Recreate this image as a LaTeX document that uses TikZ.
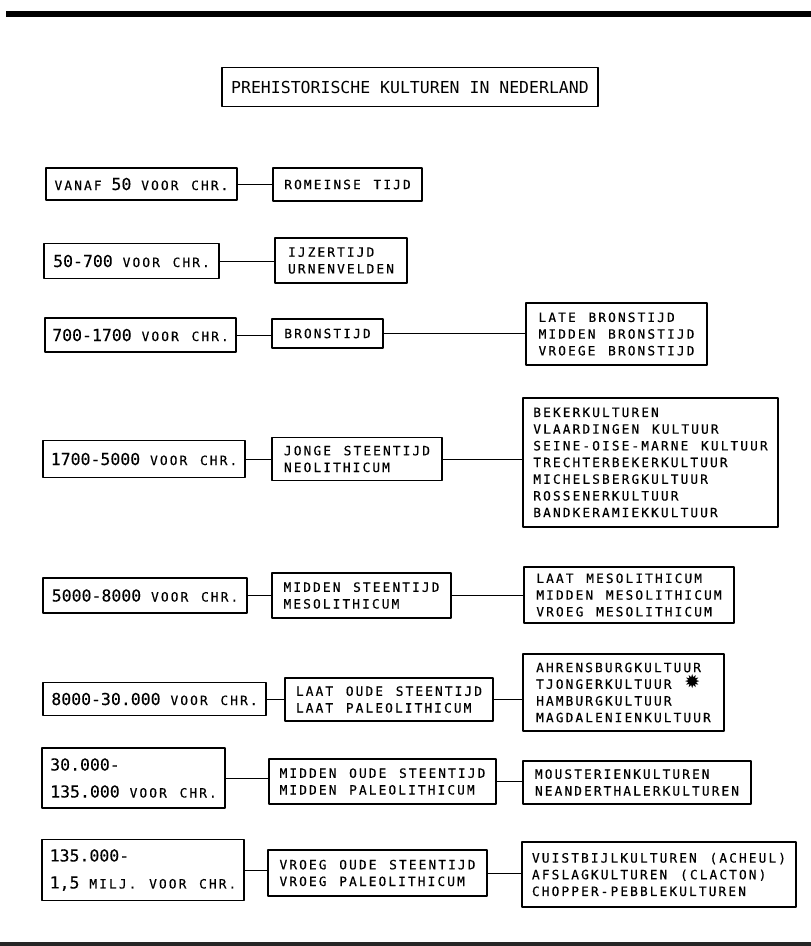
\documentclass[tikz,border=0pt]{standalone}
\usepackage{fontspec}
\newfontfamily\plotfont{DejaVu Sans Mono}[LetterSpace=16.5,WordSpace=1.3,FakeBold=0.4]
\newfontfamily\bigplotfont{DejaVu Sans Mono}[FakeBold=0.2]
\newfontfamily\titelfont{DejaVu Sans Mono}
\newfontfamily\symfont{DejaVu Sans}
\newcommand{\klein}{\fontsize{12.8}{16.7}\plotfont}
\newcommand{\groot}{\fontsize{16.5}{27}\bigplotfont}
\begin{document}
\begin{tikzpicture}[x=1pt, y=-1pt, line join=round, line cap=round,
	kader/.style={draw, line width=1.4pt, align=left, inner sep=0pt},
	datum/.style={kader, font=\groot},
	periode/.style={kader, font=\klein},
	kultuur/.style={kader, font=\klein},
	lijn/.style={line width=1pt}]
		\useasboundingbox (0,0) rectangle (811,946);
		%\draw[color=gray!50,dashed] (0,0) grid[xstep=50,ystep=50] (811,946);
		\fill (6,11) rectangle (811,17);
		\fill[black!85] (0,942) rectangle (811,946);
		\node[kader, font=\fontsize{16.5}{20}\titelfont, minimum width=376pt, minimum height=39pt] (titel) at (410,87) {PREHISTORISCHE KULTUREN IN NEDERLAND};
		% tijdvakken
		\node[datum, minimum width=191pt, minimum height=32pt] (d1) at (141.5,184) {{\klein VANAF} 50 {\klein VOOR CHR.}};
		\node[datum, minimum width=175pt, minimum height=35pt] (d2) at (131.5,261) {50-700 {\klein VOOR CHR.}};
		\node[datum, minimum width=191pt, minimum height=34pt] (d3) at (140.5,335) {700-1700 {\klein VOOR CHR.}};
		\node[datum, minimum width=202pt, minimum height=37pt] (d4) at (144,459) {1700-5000 {\klein VOOR CHR.}};
		\node[datum, minimum width=204pt, minimum height=35pt] (d5) at (145,595.5) {5000-8000 {\klein VOOR CHR.}};
		\node[datum, minimum width=223pt, minimum height=33pt] (d6) at (154.5,699) {8000-30.000 {\klein VOOR CHR.}};
		\node[datum, minimum width=183pt, minimum height=60pt] (d7) at (133.5,778) {30.000-\\135.000 {\klein VOOR CHR.}};
		\node[datum, minimum width=202pt, minimum height=61pt] (d8) at (143,870) {135.000-\\1,5 {\klein MILJ. VOOR CHR.}};
		% perioden
		\node[periode, minimum width=149pt, minimum height=33pt] (p1) at (347.5,184.5) {ROMEINSE TIJD};
		\node[periode, minimum width=132pt, minimum height=45pt] (p2) at (341,260.5) {IJZERTIJD\\URNENVELDEN};
		\node[periode, minimum width=111pt, minimum height=29pt] (p3) at (327.5,333.5) {BRONSTIJD};
		\node[periode, minimum width=170pt, minimum height=43pt] (p4) at (357,459) {JONGE STEENTIJD\\NEOLITHICUM};
		\node[periode, minimum width=179pt, minimum height=45pt] (p5) at (361.5,595.5) {MIDDEN STEENTIJD\\MESOLITHICUM};
		\node[periode, minimum width=208pt, minimum height=43pt] (p6) at (389,699.5) {LAAT OUDE STEENTIJD\\LAAT PALEOLITHICUM};
		\node[periode, minimum width=227pt, minimum height=45pt] (p7) at (382.5,781.5) {MIDDEN OUDE STEENTIJD\\MIDDEN PALEOLITHICUM};
		\node[periode, minimum width=219pt, minimum height=46pt] (p8) at (377.5,873) {VROEG OUDE STEENTIJD\\VROEG PALEOLITHICUM};
		% kulturen
		\node[kultuur, minimum width=181pt, minimum height=62pt] (s3) at (616.5,334) {LATE BRONSTIJD\\MIDDEN BRONSTIJD\\VROEGE BRONSTIJD};
		\node[kultuur, minimum width=255pt, minimum height=129pt] (s4) at (650.5,462.5) {BEKERKULTUREN\\VLAARDINGEN KULTUUR\\SEINE-OISE-MARNE KULTUUR\\TRECHTERBEKERKULTUUR\\MICHELSBERGKULTUUR\\ROSSENERKULTUUR\\BANDKERAMIEKKULTUUR};
		\node[kultuur, minimum width=210pt, minimum height=56pt] (s5) at (629,595) {LAAT MESOLITHICUM\\MIDDEN MESOLITHICUM\\VROEG MESOLITHICUM};
		\node[kultuur, minimum width=201pt, minimum height=77pt] (s6) at (623.5,692.5) {AHRENSBURGKULTUUR\\TJONGERKULTUUR {\fontsize{19}{16}\symfont ✹}\\HAMBURGKULTUUR\\MAGDALENIENKULTUUR};
		\node[kultuur, minimum width=228pt, minimum height=43pt] (s7) at (637,782.5) {MOUSTERIENKULTUREN\\NEANDERTHALERKULTUREN};
		\node[kultuur, minimum width=274pt, minimum height=65pt] (s8) at (659,874.5) {VUISTBIJLKULTUREN (ACHEUL)\\AFSLAGKULTUREN (CLACTON)\\CHOPPER-PEBBLEKULTUREN};
		\foreach \i in {1,...,8}
			\draw[lijn] (d\i.east) -- (d\i.east -| p\i.west);
		\foreach \i in {3,...,8}
			\draw[lijn] (p\i.east) -- (p\i.east -| s\i.west);
	\end{tikzpicture}
\end{document}
